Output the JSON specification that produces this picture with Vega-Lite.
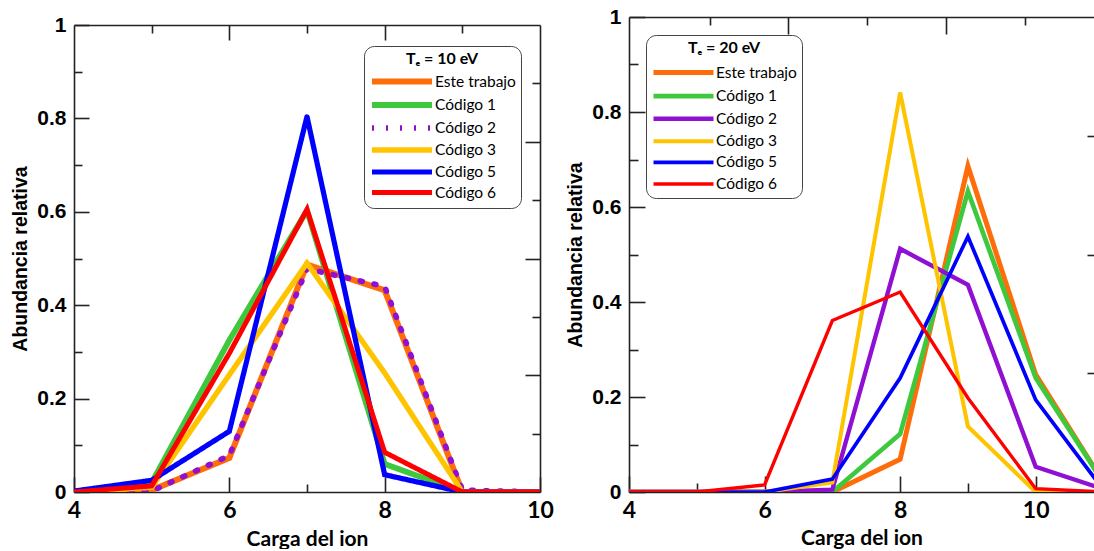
{
  "$schema": "https://vega.github.io/schema/vega-lite/v6.json",
  "padding": {"left": 10, "top": 6, "right": 0, "bottom": 0},
  "background": "white",
  "bounds": "flush",
  "spacing": 89,
  "config": {
    "view": {"stroke": null},
    "axis": {
      "grid": false,
      "domainColor": "#222222",
      "domainWidth": 1.6,
      "tickColor": "#222222",
      "tickWidth": 1.6,
      "labelColor": "black",
      "titleColor": "black",
      "labelFlush": false,
      "labelOverlap": false,
      "labelBound": false
    }
  },
  "resolve": {
    "scale": {"color": "independent", "strokeDash": "independent", "strokeWidth": "independent"},
    "legend": {"color": "independent", "strokeDash": "independent", "strokeWidth": "independent"}
  },
  "hconcat": [
    {
      "width": 466,
      "height": 475,
      "data": {"values": [
        {"serie": "Este trabajo", "carga": 4, "abundancia": 0},
        {"serie": "Este trabajo", "carga": 5, "abundancia": 0.004},
        {"serie": "Este trabajo", "carga": 6, "abundancia": 0.073},
        {"serie": "Este trabajo", "carga": 7, "abundancia": 0.487},
        {"serie": "Este trabajo", "carga": 8, "abundancia": 0.432},
        {"serie": "Este trabajo", "carga": 9, "abundancia": 0},
        {"serie": "Este trabajo", "carga": 10, "abundancia": 0},
        {"serie": "Código 1", "carga": 4, "abundancia": 0},
        {"serie": "Código 1", "carga": 5, "abundancia": 0.02},
        {"serie": "Código 1", "carga": 6, "abundancia": 0.325},
        {"serie": "Código 1", "carga": 7, "abundancia": 0.603},
        {"serie": "Código 1", "carga": 8, "abundancia": 0.06},
        {"serie": "Código 1", "carga": 9, "abundancia": 0},
        {"serie": "Código 1", "carga": 10, "abundancia": 0},
        {"serie": "Código 2", "carga": 4, "abundancia": 0},
        {"serie": "Código 2", "carga": 5, "abundancia": 0.002},
        {"serie": "Código 2", "carga": 6, "abundancia": 0.078},
        {"serie": "Código 2", "carga": 7, "abundancia": 0.478},
        {"serie": "Código 2", "carga": 8, "abundancia": 0.44},
        {"serie": "Código 2", "carga": 9, "abundancia": 0.004},
        {"serie": "Código 2", "carga": 10, "abundancia": 0},
        {"serie": "Código 3", "carga": 4, "abundancia": 0},
        {"serie": "Código 3", "carga": 5, "abundancia": 0.01},
        {"serie": "Código 3", "carga": 6, "abundancia": 0.251},
        {"serie": "Código 3", "carga": 7, "abundancia": 0.49},
        {"serie": "Código 3", "carga": 8, "abundancia": 0.255},
        {"serie": "Código 3", "carga": 9, "abundancia": 0},
        {"serie": "Código 3", "carga": 10, "abundancia": 0},
        {"serie": "Código 5", "carga": 4, "abundancia": 0.002},
        {"serie": "Código 5", "carga": 5, "abundancia": 0.025},
        {"serie": "Código 5", "carga": 6, "abundancia": 0.13},
        {"serie": "Código 5", "carga": 7, "abundancia": 0.804},
        {"serie": "Código 5", "carga": 8, "abundancia": 0.037},
        {"serie": "Código 5", "carga": 9, "abundancia": 0},
        {"serie": "Código 5", "carga": 10, "abundancia": 0},
        {"serie": "Código 6", "carga": 4, "abundancia": 0},
        {"serie": "Código 6", "carga": 5, "abundancia": 0.013},
        {"serie": "Código 6", "carga": 6, "abundancia": 0.297},
        {"serie": "Código 6", "carga": 7, "abundancia": 0.605},
        {"serie": "Código 6", "carga": 8, "abundancia": 0.085},
        {"serie": "Código 6", "carga": 9, "abundancia": 0},
        {"serie": "Código 6", "carga": 10, "abundancia": 0}
      ]},
      "layer": [
        {
          "mark": {"type": "line", "clip": true, "strokeCap": "round", "strokeJoin": "miter"},
          "encoding": {
            "x": {
              "field": "carga", "type": "quantitative",
              "scale": {"domain": [4, 10], "nice": false, "zero": false},
              "axis": {
                "orient": "bottom", "values": [4, 6, 8, 10], "format": "d", "tickSize": -15,
                "labelFont": "Lato", "labelFontSize": 23, "labelFontWeight": "bold", "labelPadding": 22,
                "title": "Carga del ion", "titleFont": "Lato", "titleFontSize": 21, "titleFontWeight": "bold", "titlePadding": 6
              }
            },
            "y": {
              "field": "abundancia", "type": "quantitative",
              "scale": {"domain": [0, 1], "nice": false, "zero": false, "range": [475, 8]},
              "axis": {
                "orient": "left", "values": [0, 0.2, 0.4, 0.6, 0.8, 1], "format": "~g", "tickSize": -15,
                "labelFont": "Liberation Sans", "labelFontSize": 21, "labelFontWeight": "bold", "labelPadding": 23,
                "title": "Abundancia relativa", "titleFont": "Liberation Sans", "titleFontSize": 19.5, "titleFontWeight": "bold", "titlePadding": 6
              }
            },
            "color": {
              "field": "serie", "type": "nominal",
              "scale": {
                "domain": ["Este trabajo", "Código 1", "Código 2", "Código 3", "Código 5", "Código 6"],
                "range": ["#ff6c0a", "#3ec83e", "#8f10d2", "#ffc400", "#0000ff", "#ff0000"]
              },
              "legend": {
                "orient": "none", "legendX": 290, "legendY": 29,
                "title": "Tₑ = 10 eV", "titleFont": "Lato", "titleFontSize": 16, "titleFontWeight": "bold", "titleColor": "black",
                "titleAnchor": "middle", "titleAlign": "center", "titlePadding": 4,
                "labelFont": "Lato", "labelFontSize": 15.5, "labelColor": "black", "labelOffset": 45,
                "symbolType": "M-1,0H7", "symbolSize": 225, "rowPadding": -1.5,
                "padding": 5, "cornerRadius": 10, "strokeColor": "#444444", "fillColor": "white"
              }
            },
            "strokeDash": {
              "field": "serie", "type": "nominal",
              "scale": {
                "domain": ["Este trabajo", "Código 1", "Código 2", "Código 3", "Código 5", "Código 6"],
                "range": [[1, 0], [1, 0], [2, 12], [1, 0], [1, 0], [1, 0]]
              }
            },
            "strokeWidth": {
              "field": "serie", "type": "nominal",
              "scale": {
                "domain": ["Este trabajo", "Código 1", "Código 2", "Código 3", "Código 5", "Código 6"],
                "range": [6, 5, 4.5, 2.6, 3, 3.6]
              }
            }
          }
        },
        {
          "mark": {"type": "line", "opacity": 0},
          "encoding": {
            "x": {"field": "carga", "type": "quantitative",
              "axis": {"orient": "bottom", "values": [5, 7, 9], "tickSize": -8, "labels": false, "domain": false, "title": null}},
            "y": {"field": "abundancia", "type": "quantitative",
              "axis": {"orient": "left", "values": [0.1, 0.3, 0.5, 0.7, 0.9], "tickSize": -8, "labels": false, "domain": false, "title": null}}
          }
        },
        {
          "mark": {"type": "line", "opacity": 0},
          "encoding": {
            "x": {"field": "carga", "type": "quantitative",
              "axis": {"orient": "top", "offset": -8, "values": [6, 8], "tickSize": -15, "labels": false, "title": null}},
            "y": {"field": "abundancia", "type": "quantitative",
              "axis": {"orient": "right", "values": [0.25, 0.5, 0.75], "tickSize": -15, "labels": false, "title": null}}
          }
        },
        {
          "mark": {"type": "line", "opacity": 0},
          "encoding": {
            "x": {"field": "carga", "type": "quantitative",
              "axis": {"orient": "top", "offset": -8, "values": [5, 7, 9], "tickSize": -8, "labels": false, "domain": false, "title": null}},
            "y": {"field": "abundancia", "type": "quantitative",
              "axis": {"orient": "right", "values": [0.125, 0.375, 0.625, 0.875], "tickSize": -8, "labels": false, "domain": false, "title": null}}
          }
        }
      ],
      "resolve": {"axis": {"x": "independent", "y": "independent"}}
    },
    {
      "width": 465,
      "height": 475,
      "data": {"values": [
        {"serie": "Este trabajo", "carga": 4, "abundancia": 0},
        {"serie": "Este trabajo", "carga": 5, "abundancia": 0},
        {"serie": "Este trabajo", "carga": 6, "abundancia": 0},
        {"serie": "Este trabajo", "carga": 7, "abundancia": 0},
        {"serie": "Este trabajo", "carga": 8, "abundancia": 0.069},
        {"serie": "Este trabajo", "carga": 9, "abundancia": 0.686},
        {"serie": "Este trabajo", "carga": 10, "abundancia": 0.247},
        {"serie": "Este trabajo", "carga": 11, "abundancia": 0.02},
        {"serie": "Código 1", "carga": 4, "abundancia": 0},
        {"serie": "Código 1", "carga": 5, "abundancia": 0},
        {"serie": "Código 1", "carga": 6, "abundancia": 0},
        {"serie": "Código 1", "carga": 7, "abundancia": 0},
        {"serie": "Código 1", "carga": 8, "abundancia": 0.122},
        {"serie": "Código 1", "carga": 9, "abundancia": 0.633},
        {"serie": "Código 1", "carga": 10, "abundancia": 0.24},
        {"serie": "Código 1", "carga": 11, "abundancia": 0.02},
        {"serie": "Código 2", "carga": 4, "abundancia": 0},
        {"serie": "Código 2", "carga": 5, "abundancia": 0},
        {"serie": "Código 2", "carga": 6, "abundancia": 0},
        {"serie": "Código 2", "carga": 7, "abundancia": 0.005},
        {"serie": "Código 2", "carga": 8, "abundancia": 0.512},
        {"serie": "Código 2", "carga": 9, "abundancia": 0.436},
        {"serie": "Código 2", "carga": 10, "abundancia": 0.053},
        {"serie": "Código 2", "carga": 11, "abundancia": 0.006},
        {"serie": "Código 3", "carga": 4, "abundancia": 0},
        {"serie": "Código 3", "carga": 5, "abundancia": 0},
        {"serie": "Código 3", "carga": 6, "abundancia": 0},
        {"serie": "Código 3", "carga": 7, "abundancia": 0.02},
        {"serie": "Código 3", "carga": 8, "abundancia": 0.841},
        {"serie": "Código 3", "carga": 9, "abundancia": 0.138},
        {"serie": "Código 3", "carga": 10, "abundancia": 0},
        {"serie": "Código 3", "carga": 11, "abundancia": 0},
        {"serie": "Código 5", "carga": 4, "abundancia": 0},
        {"serie": "Código 5", "carga": 5, "abundancia": 0},
        {"serie": "Código 5", "carga": 6, "abundancia": 0},
        {"serie": "Código 5", "carga": 7, "abundancia": 0.027},
        {"serie": "Código 5", "carga": 8, "abundancia": 0.24},
        {"serie": "Código 5", "carga": 9, "abundancia": 0.538},
        {"serie": "Código 5", "carga": 10, "abundancia": 0.194},
        {"serie": "Código 5", "carga": 11, "abundancia": 0.004},
        {"serie": "Código 6", "carga": 4, "abundancia": 0},
        {"serie": "Código 6", "carga": 5, "abundancia": 0},
        {"serie": "Código 6", "carga": 6, "abundancia": 0.015},
        {"serie": "Código 6", "carga": 7, "abundancia": 0.361},
        {"serie": "Código 6", "carga": 8, "abundancia": 0.421},
        {"serie": "Código 6", "carga": 9, "abundancia": 0.198},
        {"serie": "Código 6", "carga": 10, "abundancia": 0.007},
        {"serie": "Código 6", "carga": 11, "abundancia": 0}
      ]},
      "layer": [
        {
          "mark": {"type": "line", "clip": true, "strokeCap": "round", "strokeJoin": "miter"},
          "encoding": {
            "x": {
              "field": "carga", "type": "quantitative",
              "scale": {"domain": [4, 10.86], "nice": false, "zero": false},
              "axis": {
                "orient": "bottom", "values": [4, 6, 8, 10], "format": "d", "tickSize": -16,
                "labelFont": "Lato", "labelFontSize": 23, "labelFontWeight": "bold", "labelPadding": 23,
                "title": "Carga del ion", "titleFont": "Lato", "titleFontSize": 21, "titleFontWeight": "bold", "titlePadding": 5
              }
            },
            "y": {
              "field": "abundancia", "type": "quantitative",
              "scale": {"domain": [0, 1], "nice": false, "zero": false},
              "axis": {
                "orient": "left", "values": [0, 0.2, 0.4, 0.6, 0.8, 1], "format": "~g", "tickSize": -16,
                "labelFont": "Liberation Sans", "labelFontSize": 21, "labelFontWeight": "bold", "labelPadding": 24,
                "title": "Abundancia relativa", "titleFont": "Liberation Sans", "titleFontSize": 19.5, "titleFontWeight": "bold", "titlePadding": 6
              }
            },
            "color": {
              "field": "serie", "type": "nominal",
              "scale": {
                "domain": ["Este trabajo", "Código 1", "Código 2", "Código 3", "Código 5", "Código 6"],
                "range": ["#ff6c0a", "#3ec83e", "#8f10d2", "#ffc400", "#0000ff", "#ff0000"]
              },
              "legend": {
                "orient": "none", "legendX": 17, "legendY": 18,
                "title": "Tₑ = 20 eV", "titleFont": "Lato", "titleFontSize": 16, "titleFontWeight": "bold", "titleColor": "black",
                "titleAnchor": "middle", "titleAlign": "center", "titlePadding": 4,
                "labelFont": "Lato", "labelFontSize": 15.5, "labelColor": "black", "labelOffset": 40,
                "symbolType": "M-1,0H5", "symbolSize": 400, "rowPadding": 0.6,
                "padding": 5, "cornerRadius": 10, "strokeColor": "#444444", "fillColor": "white"
              }
            },
            "strokeWidth": {
              "field": "serie", "type": "nominal",
              "scale": {
                "domain": ["Este trabajo", "Código 1", "Código 2", "Código 3", "Código 5", "Código 6"],
                "range": [5, 3.4, 3.4, 3, 3.4, 3.4]
              }
            }
          }
        },
        {
          "mark": {"type": "line", "opacity": 0},
          "encoding": {
            "x": {"field": "carga", "type": "quantitative",
              "axis": {"orient": "bottom", "values": [5, 7, 9], "tickSize": -9, "labels": false, "domain": false, "title": null}},
            "y": {"field": "abundancia", "type": "quantitative",
              "axis": {"orient": "left", "values": [0.1, 0.3, 0.5, 0.7, 0.9], "tickSize": -9, "labels": false, "domain": false, "title": null}}
          }
        },
        {
          "mark": {"type": "line", "opacity": 0},
          "encoding": {
            "x": {"field": "carga", "type": "quantitative",
              "axis": {"orient": "top", "values": [6.35, 8.68], "tickSize": -17, "labels": false, "title": null}},
            "y": {"field": "abundancia", "type": "quantitative",
              "axis": {"orient": "right", "values": [0.25, 0.5, 0.75], "tickSize": -7, "labels": false, "domain": false, "title": null}}
          }
        },
        {
          "mark": {"type": "line", "opacity": 0},
          "encoding": {
            "x": {"field": "carga", "type": "quantitative",
              "axis": {"orient": "top", "values": [5.19, 7.51, 9.84], "tickSize": -8, "labels": false, "domain": false, "title": null}},
            "y": {"field": "abundancia", "type": "quantitative", "axis": null}
          }
        }
      ],
      "resolve": {"axis": {"x": "independent", "y": "independent"}}
    }
  ]
}
